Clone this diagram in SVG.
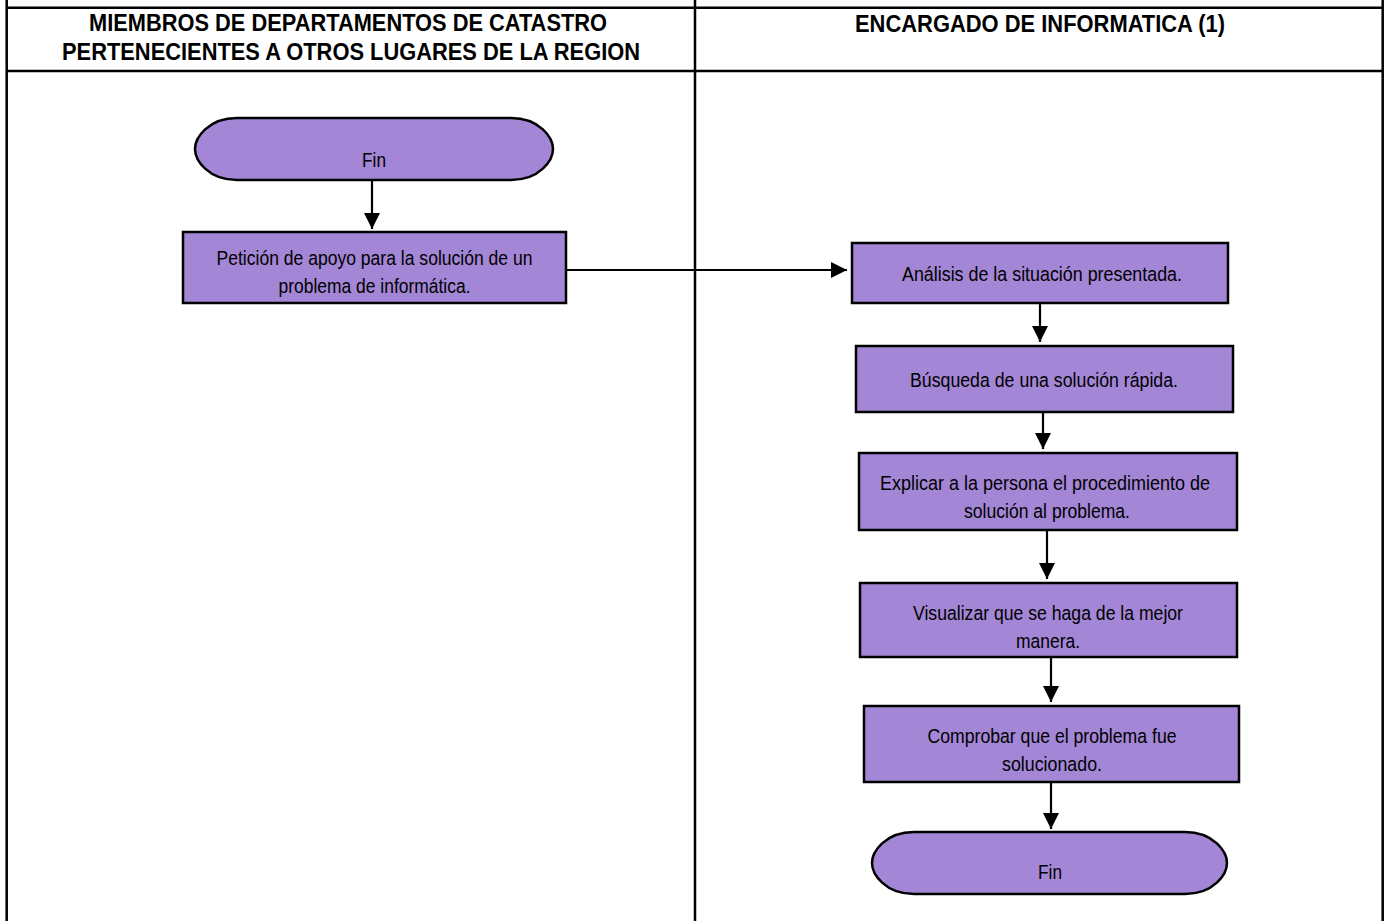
<svg xmlns="http://www.w3.org/2000/svg" width="1390" height="921" viewBox="0 0 1390 921">
<style>
.grid{stroke:#000;stroke-width:2.5;fill:none}
.box{fill:#A386D6;stroke:#000;stroke-width:2.5}
.t{font-family:"Liberation Sans",Arial,sans-serif;font-size:20.5px;fill:#000;text-anchor:middle}
.h{font-family:"Liberation Sans",Arial,sans-serif;font-size:23px;font-weight:bold;fill:#000;text-anchor:middle}
.c{stroke:#000;stroke-width:2.2;fill:none;marker-end:url(#ah)}
</style>
<defs>
<marker id="ah" markerUnits="userSpaceOnUse" markerWidth="18" markerHeight="18" refX="16" refY="8" orient="auto">
<path d="M0,0 L16,8 L0,16 Z" fill="#000"/>
</marker>
</defs>
<rect width="1390" height="921" fill="#fff"/>
<g id="table">
<line class="grid" x1="6.7" y1="0" x2="6.7" y2="921"/>
<line class="grid" x1="695" y1="0" x2="695" y2="921"/>
<line class="grid" x1="1382.7" y1="0" x2="1382.7" y2="921"/>
<line class="grid" x1="6.7" y1="7.7" x2="1382.7" y2="7.7"/>
<line class="grid" x1="6.7" y1="71" x2="1382.7" y2="71"/>
<text class="h" x="348" y="31" textLength="518" lengthAdjust="spacingAndGlyphs">MIEMBROS DE DEPARTAMENTOS DE CATASTRO</text>
<text class="h" x="351" y="60" textLength="578" lengthAdjust="spacingAndGlyphs">PERTENECIENTES A OTROS LUGARES DE LA REGION</text>
<text class="h" x="1040" y="32" textLength="370" lengthAdjust="spacingAndGlyphs">ENCARGADO DE INFORMATICA (1)</text>
</g>
<g id="connectors">
<line class="c" x1="372" y1="180" x2="372" y2="229"/>
<line class="c" x1="566" y1="270" x2="847" y2="270"/>
<line class="c" x1="1040" y1="303" x2="1040" y2="342"/>
<line class="c" x1="1043" y1="412" x2="1043" y2="449"/>
<line class="c" x1="1047" y1="530" x2="1047" y2="579"/>
<line class="c" x1="1051" y1="657" x2="1051" y2="702"/>
<line class="c" x1="1051" y1="782" x2="1051" y2="829"/>
</g>
<g id="fin-top">
<path class="box" d="M237,118 H511 C540,118 553,138 553,149 C553,160 540,180 511,180 H237 C208,180 195,160 195,149 C195,138 208,118 237,118 Z"/>
<text class="t" x="374" y="167" textLength="24" lengthAdjust="spacingAndGlyphs">Fin</text>
</g>
<g id="peticion">
<rect class="box" x="183" y="232" width="383" height="71"/>
<text class="t" x="374.5" y="265" textLength="316" lengthAdjust="spacingAndGlyphs">Petición de apoyo para la solución de un</text>
<text class="t" x="374.5" y="293" textLength="192" lengthAdjust="spacingAndGlyphs">problema de informática.</text>
</g>
<g id="analisis">
<rect class="box" x="852" y="243" width="376" height="60"/>
<text class="t" x="1042" y="281" textLength="280" lengthAdjust="spacingAndGlyphs">Análisis de la situación presentada.</text>
</g>
<g id="busqueda">
<rect class="box" x="856" y="346" width="377" height="66"/>
<text class="t" x="1044" y="387" textLength="268" lengthAdjust="spacingAndGlyphs">Búsqueda de una solución rápida.</text>
</g>
<g id="explicar">
<rect class="box" x="859" y="453" width="378" height="77"/>
<text class="t" x="1045" y="490" textLength="330" lengthAdjust="spacingAndGlyphs">Explicar a la persona el procedimiento de</text>
<text class="t" x="1047" y="518" textLength="166" lengthAdjust="spacingAndGlyphs">solución al problema.</text>
</g>
<g id="visualizar">
<rect class="box" x="860" y="583" width="377" height="74"/>
<text class="t" x="1048" y="620" textLength="270" lengthAdjust="spacingAndGlyphs">Visualizar que se haga de la mejor</text>
<text class="t" x="1048" y="648" textLength="64" lengthAdjust="spacingAndGlyphs">manera.</text>
</g>
<g id="comprobar">
<rect class="box" x="864" y="706" width="375" height="76"/>
<text class="t" x="1052" y="743" textLength="249" lengthAdjust="spacingAndGlyphs">Comprobar que el problema fue</text>
<text class="t" x="1052" y="771" textLength="100" lengthAdjust="spacingAndGlyphs">solucionado.</text>
</g>
<g id="fin-bottom">
<path class="box" d="M914,832 H1185 C1214,832 1227,852 1227,863 C1227,874 1214,894 1185,894 H914 C885,894 872,874 872,863 C872,852 885,832 914,832 Z"/>
<text class="t" x="1050" y="879" textLength="24" lengthAdjust="spacingAndGlyphs">Fin</text>
</g>
</svg>
